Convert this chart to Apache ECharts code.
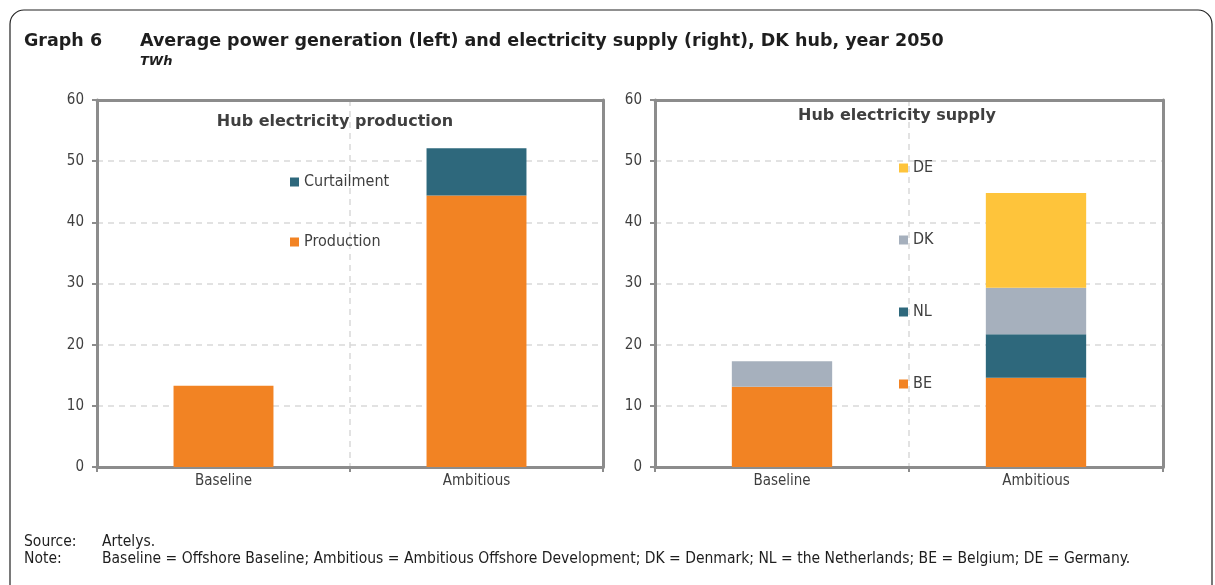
<!DOCTYPE html>
<html>
<head>
<meta charset="utf-8">
<script src="https://cdn.jsdelivr.net/npm/echarts@6/dist/echarts.min.js"></script>
<style>
  html, body { margin: 0; padding: 0; background: #fff; }
  #chart { width: 1215px; height: 585px; }
</style>
</head>
<body>
<div id="chart"></div>
<script>
// Scenarios on the category axis
const categories = ['Baseline', 'Ambitious'];
const yTicks = [0, 10, 20, 30, 40, 50, 60];

// Left panel: hub electricity production (TWh)
const production = [13.3, 44.4];
const curtailment = [0, 7.7];

// Right panel: hub electricity supply by country (TWh)
const supplyBE = [13.1, 14.6];
const supplyNL = [0, 7.1];
const supplyDK = [4.2, 7.6];
const supplyDE = [0, 15.5];

const COLORS = {
  orange: '#F28323',
  teal: '#2E687C',
  grey: '#A6B0BD',
  yellow: '#FEC43B'
};

const FONT = 'DejaVu Sans Condensed';
const TITLE_FONT = 'DejaVu Sans';
const AXIS_COLOR = '#8c8c8c';
const TEXT_COLOR = '#3f3f3f';
const GRID_LINE = { color: '#d9d9d9', width: 1.5, type: [6, 5] };

function valueAxis(gridIndex) {
  return {
    type: 'value',
    gridIndex: gridIndex,
    min: yTicks[0],
    max: yTicks[yTicks.length - 1],
    interval: yTicks[1] - yTicks[0],
    axisLine: { show: true, lineStyle: { color: AXIS_COLOR, width: 3 } },
    axisTick: { show: true, length: 5, lineStyle: { color: AXIS_COLOR, width: 2 } },
    axisLabel: { color: TEXT_COLOR, fontFamily: FONT, fontSize: 15, margin: 13 },
    splitLine: { show: true, lineStyle: GRID_LINE }
  };
}

// Plain frame edge on the right of a plot
function frameValueAxis(gridIndex) {
  return {
    type: 'value',
    gridIndex: gridIndex,
    position: 'right',
    min: yTicks[0],
    max: yTicks[yTicks.length - 1],
    interval: yTicks[1] - yTicks[0],
    axisLine: { show: true, onZero: false, lineStyle: { color: AXIS_COLOR, width: 3 } },
    axisTick: { show: false },
    axisLabel: { show: false },
    splitLine: { show: false }
  };
}

function categoryAxis(gridIndex) {
  return {
    type: 'category',
    gridIndex: gridIndex,
    data: categories,
    boundaryGap: true,
    axisLine: { show: true, lineStyle: { color: AXIS_COLOR, width: 3 } },
    axisTick: { show: true, length: 5, lineStyle: { color: AXIS_COLOR, width: 2 } },
    axisLabel: { color: TEXT_COLOR, fontFamily: FONT, fontSize: 15, margin: 7 },
    splitLine: { show: true, lineStyle: GRID_LINE }
  };
}

// Plain frame edge along the top of a plot
function frameCategoryAxis(gridIndex) {
  return {
    type: 'category',
    gridIndex: gridIndex,
    position: 'top',
    data: categories,
    boundaryGap: true,
    axisLine: { show: true, onZero: false, lineStyle: { color: AXIS_COLOR, width: 3 } },
    axisTick: { show: false },
    axisLabel: { show: false },
    splitLine: { show: false }
  };
}

function barSeries(name, data, color, axisIndex, stack) {
  return {
    name: name,
    type: 'bar',
    stack: stack,
    xAxisIndex: axisIndex,
    yAxisIndex: axisIndex,
    data: data,
    barWidth: '39.5%',
    itemStyle: { color: color },
    emphasis: { disabled: true }
  };
}

const legendText = { color: TEXT_COLOR, fontFamily: FONT, fontSize: 16, lineHeight: 18 };
const footText = { fontFamily: FONT, fontWeight: 'normal', fontSize: 15.5, color: '#1e1e1e' };
const headText = { fontFamily: TITLE_FONT, fontWeight: 'bold', fontSize: 17.5, color: '#1e1e1e' };

const option = {
  animation: false,
  backgroundColor: '#ffffff',
  title: [
    { text: 'Graph 6', left: 24, top: 32, padding: 0, textStyle: headText },
    { text: 'Average power generation (left) and electricity supply (right), DK hub, year 2050',
      left: 140, top: 32, padding: 0, textStyle: headText },
    { text: 'TWh', left: 140, top: 55, padding: 0,
      textStyle: { fontFamily: TITLE_FONT, fontWeight: 'bold', fontStyle: 'italic', fontSize: 13, color: '#1e1e1e' } },
    { text: 'Hub electricity production', left: 335, top: 114, padding: 0, textAlign: 'center',
      textStyle: { fontFamily: TITLE_FONT, fontWeight: 'bold', fontSize: 16, color: TEXT_COLOR } },
    { text: 'Hub electricity supply', left: 897, top: 108, padding: 0, textAlign: 'center',
      textStyle: { fontFamily: TITLE_FONT, fontWeight: 'bold', fontSize: 16, color: TEXT_COLOR } },
    { text: 'Source:', left: 24, top: 534, padding: 0, textStyle: footText },
    { text: 'Artelys.', left: 102, top: 534, padding: 0, textStyle: footText },
    { text: 'Note:', left: 24, top: 551, padding: 0, textStyle: footText },
    { text: 'Baseline = Offshore Baseline; Ambitious = Ambitious Offshore Development; DK = Denmark; NL = the Netherlands; BE = Belgium; DE = Germany.',
      left: 102, top: 551, padding: 0, textStyle: footText }
  ],
  legend: [
    {
      data: ['Curtailment', 'Production'],
      orient: 'vertical', left: 290, top: 173, padding: 0,
      itemWidth: 9, itemHeight: 9, itemGap: 42, icon: 'rect',
      selectedMode: false, textStyle: legendText
    },
    {
      data: ['DE', 'DK', 'NL', 'BE'],
      orient: 'vertical', left: 899, top: 159, padding: 0,
      itemWidth: 9, itemHeight: 9, itemGap: 54, icon: 'rect',
      selectedMode: false, textStyle: legendText
    }
  ],
  grid: [
    { left: 97, right: 612, top: 100, bottom: 118 },
    { left: 655, right: 52, top: 100, bottom: 118 }
  ],
  xAxis: [categoryAxis(0), categoryAxis(1), frameCategoryAxis(0), frameCategoryAxis(1)],
  yAxis: [valueAxis(0), valueAxis(1), frameValueAxis(0), frameValueAxis(1)],
  series: [
    barSeries('Production', production, COLORS.orange, 0, 'prod'),
    barSeries('Curtailment', curtailment, COLORS.teal, 0, 'prod'),
    barSeries('BE', supplyBE, COLORS.orange, 1, 'supply'),
    barSeries('NL', supplyNL, COLORS.teal, 1, 'supply'),
    barSeries('DK', supplyDK, COLORS.grey, 1, 'supply'),
    barSeries('DE', supplyDE, COLORS.yellow, 1, 'supply')
  ],
  graphic: [
    {
      type: 'rect',
      silent: true,
      shape: { x: 10, y: 10, width: 1202, height: 600, r: 14 },
      style: { fill: 'none', stroke: '#222', lineWidth: 1.2 }
    }
  ]
};

const chart = echarts.init(document.getElementById('chart'), null, { renderer: 'canvas' });
chart.setOption(option);
</script>
</body>
</html>
